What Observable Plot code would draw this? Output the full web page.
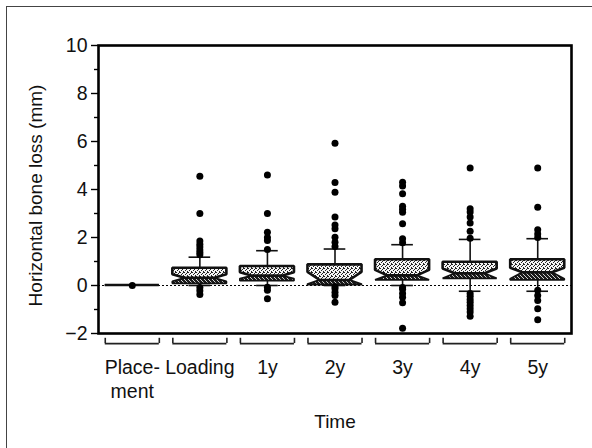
<!DOCTYPE html>
<html>
<head>
<meta charset="utf-8">
<script src="https://cdn.jsdelivr.net/npm/d3@7"></script>
<script src="https://cdn.jsdelivr.net/npm/@observablehq/plot@0.6"></script>
<style>
  html, body { margin: 0; padding: 0; background: #fff; overflow: hidden; }
  #wrap { position: relative; width: 592px; height: 448px; }
  #border { position: absolute; left: 6px; top: 6px; width: 620px; height: 480px; border: 1px solid #444; pointer-events: none; }
  #chart svg { font-family: "Liberation Sans", Arial, sans-serif; }
</style>
</head>
<body>
<div id="wrap"><div id="chart"></div><div id="border"></div></div>
<script>
// ---- data ----
const categories = ["Place-\nment", "Loading", "1y", "2y", "3y", "4y", "5y"];
const q1        = [0, 0.07, 0.18, 0.02, 0.21, 0.28, 0.21];
const notchLo   = [0, 0.15, 0.27, 0.04, 0.21, 0.28, 0.26];
const median    = [0, 0.30, 0.39, 0.21, 0.40, 0.49, 0.53];
const notchHi   = [0, 0.45, 0.53, 0.55, 0.63, 0.69, 0.72];
const q3        = [0, 0.72, 0.79, 0.86, 1.07, 0.97, 1.07];
const whiskerLo = [0, 0.00, 0.00, 0.00, 0.00, -0.24, -0.24];
const whiskerHi = [0, 1.18, 1.45, 1.52, 1.70, 1.92, 1.95];
const outliers = [
  [0],
  [4.55, 3.0, 1.85, 1.72, 1.6, 1.48, 1.38, 1.28, -0.08, -0.22, -0.38],
  [4.6, 3.0, 2.22, 2.0, 1.87, 1.5, -0.07, -0.2, -0.55],
  [5.93, 4.29, 3.89, 2.85, 2.52, 2.36, 2.01, 1.8, 1.62, -0.05, -0.14, -0.28, -0.42, -0.7],
  [4.3, 4.15, 3.82, 3.3, 3.18, 3.05, 2.57, 1.95, 1.78, -0.08, -0.16, -0.33, -0.49, -0.72, -1.78],
  [4.9, 3.2, 3.06, 2.85, 2.6, 2.26, 1.97, -0.33, -0.45, -0.58, -0.7, -0.83, -0.97, -1.1, -1.28],
  [4.9, 3.26, 2.32, 2.15, 2.0, -0.2, -0.42, -0.63, -0.97, -1.43]
];
const yTicks = [-2, 0, 2, 4, 6, 8, 10];
const yMinor = [-1, 1, 3, 5, 7, 9];
const yTitle = "Horizontal bone loss (mm)";
const xTitle = "Time";

// ---- derived tables ----
const xi = categories.map((_, i) => i);
const W = 0.40, NW = 0.22, CAP = 0.16;
const rows = xi.map(i => ({i, q1: q1[i], notchLo: notchLo[i], median: median[i], notchHi: notchHi[i], q3: q3[i], wLo: whiskerLo[i], wHi: whiskerHi[i]}));
const upper = rows.flatMap(d => [
  {i: d.i, y: d.median, x1: d.i - NW, x2: d.i + NW},
  {i: d.i, y: d.notchHi, x1: d.i - W, x2: d.i + W},
  {i: d.i, y: d.q3, x1: d.i - W, x2: d.i + W}
]);
const lower = rows.flatMap(d => [
  {i: d.i, y: d.q1, x1: d.i - W, x2: d.i + W},
  {i: d.i, y: d.notchLo, x1: d.i - W, x2: d.i + W},
  {i: d.i, y: d.median, x1: d.i - NW, x2: d.i + NW}
]);
const dots = outliers.flatMap((vs, i) => vs.map(v => ({i, v})));
const boxed = rows.filter(d => d.i > 0);

const chart = Plot.plot({
  width: 592,
  height: 448,
  marginLeft: 98,
  marginRight: 21,
  marginTop: 45,
  marginBottom: 115,
  style: {fontFamily: "Liberation Sans, Arial, sans-serif", background: "white"},
  x: {domain: [-0.5, 6.5], axis: null},
  y: {domain: [-2, 10], axis: null, label: null},
  marks: [
    Plot.ruleY([0], {stroke: "black", strokeWidth: 1, strokeDasharray: "2,2"}),
    Plot.ruleX(boxed, {x: "i", y1: "q3", y2: "wHi", stroke: "#111", strokeWidth: 1.6}),
    Plot.ruleX(boxed, {x: "i", y1: "q1", y2: "wLo", stroke: "#111", strokeWidth: 1.6}),
    Plot.ruleY(boxed, {y: "wHi", x1: d => d.i - CAP, x2: d => d.i + CAP, stroke: "#111", strokeWidth: 1.6}),
    Plot.ruleY(boxed, {y: "wLo", x1: d => d.i - CAP, x2: d => d.i + CAP, stroke: "#111", strokeWidth: 1.6}),
    Plot.areaX(lower, {y: "y", x1: "x1", x2: "x2", z: "i", fill: "url(#stipDark)", stroke: "#111", strokeWidth: 1.8, strokeLinejoin: "miter"}),
    Plot.areaX(upper, {y: "y", x1: "x1", x2: "x2", z: "i", fill: "url(#stipLight)", stroke: "#111", strokeWidth: 2.6, strokeLinejoin: "miter"}),
    Plot.dot(dots, {x: "i", y: "v", r: 3.5, fill: "black", stroke: null}),
    Plot.frame({stroke: "black", strokeWidth: 2.6}),
    Plot.axisY(yTicks, {tickSize: 7, tickPadding: 4, fontSize: 19.5, strokeWidth: 1.4, label: null, fill: "#111"}),
    Plot.axisY(yMinor, {tickSize: 4, tickFormat: () => "", strokeWidth: 1.4, label: null}),
    Plot.ruleY(xi, {y: -2.42, x1: i => i - W, x2: i => i + W, stroke: "#222", strokeWidth: 1.6}),
    Plot.ruleX(xi.flatMap(i => [i - W, i + W]), {x: d => d, y1: -2.42, y2: -2.2, stroke: "#222", strokeWidth: 1.6}),
    Plot.axisX(xi, {tickSize: 0, tickPadding: 24, fontSize: 19.5, lineHeight: 1.2, tickFormat: i => categories[i], label: null, fill: "#111"}),
    Plot.text([yTitle], {text: d => d, frameAnchor: "left", textAnchor: "middle", rotate: -90, dx: -63, dy: 6, fontSize: 19, fill: "#111"}),
    Plot.text([xTitle], {text: d => d, frameAnchor: "bottom", dy: 94, fontSize: 19, fill: "#111"})
  ]
});

// stipple patterns for the box fills
const defs = d3.select(chart).insert("defs", ":first-child");
const light = defs.append("pattern").attr("id", "stipLight").attr("patternUnits", "userSpaceOnUse").attr("width", 4).attr("height", 4);
light.append("rect").attr("width", 4).attr("height", 4).attr("fill", "#f4f4f4");
[[0,0],[2,1],[1,2],[3,3],[3,0]].forEach(([x, y]) => light.append("rect").attr("x", x).attr("y", y).attr("width", 1).attr("height", 1).attr("fill", "#222"));
const dark = defs.append("pattern").attr("id", "stipDark").attr("patternUnits", "userSpaceOnUse").attr("width", 4).attr("height", 4);
dark.append("rect").attr("width", 4).attr("height", 4).attr("fill", "#1a1a1a");
[[1,0],[3,2],[0,3],[2,1]].forEach(([x, y]) => dark.append("rect").attr("x", x).attr("y", y).attr("width", 1).attr("height", 1).attr("fill", "#cfcfcf"));

document.getElementById("chart").appendChild(chart);
</script>
</body>
</html>
